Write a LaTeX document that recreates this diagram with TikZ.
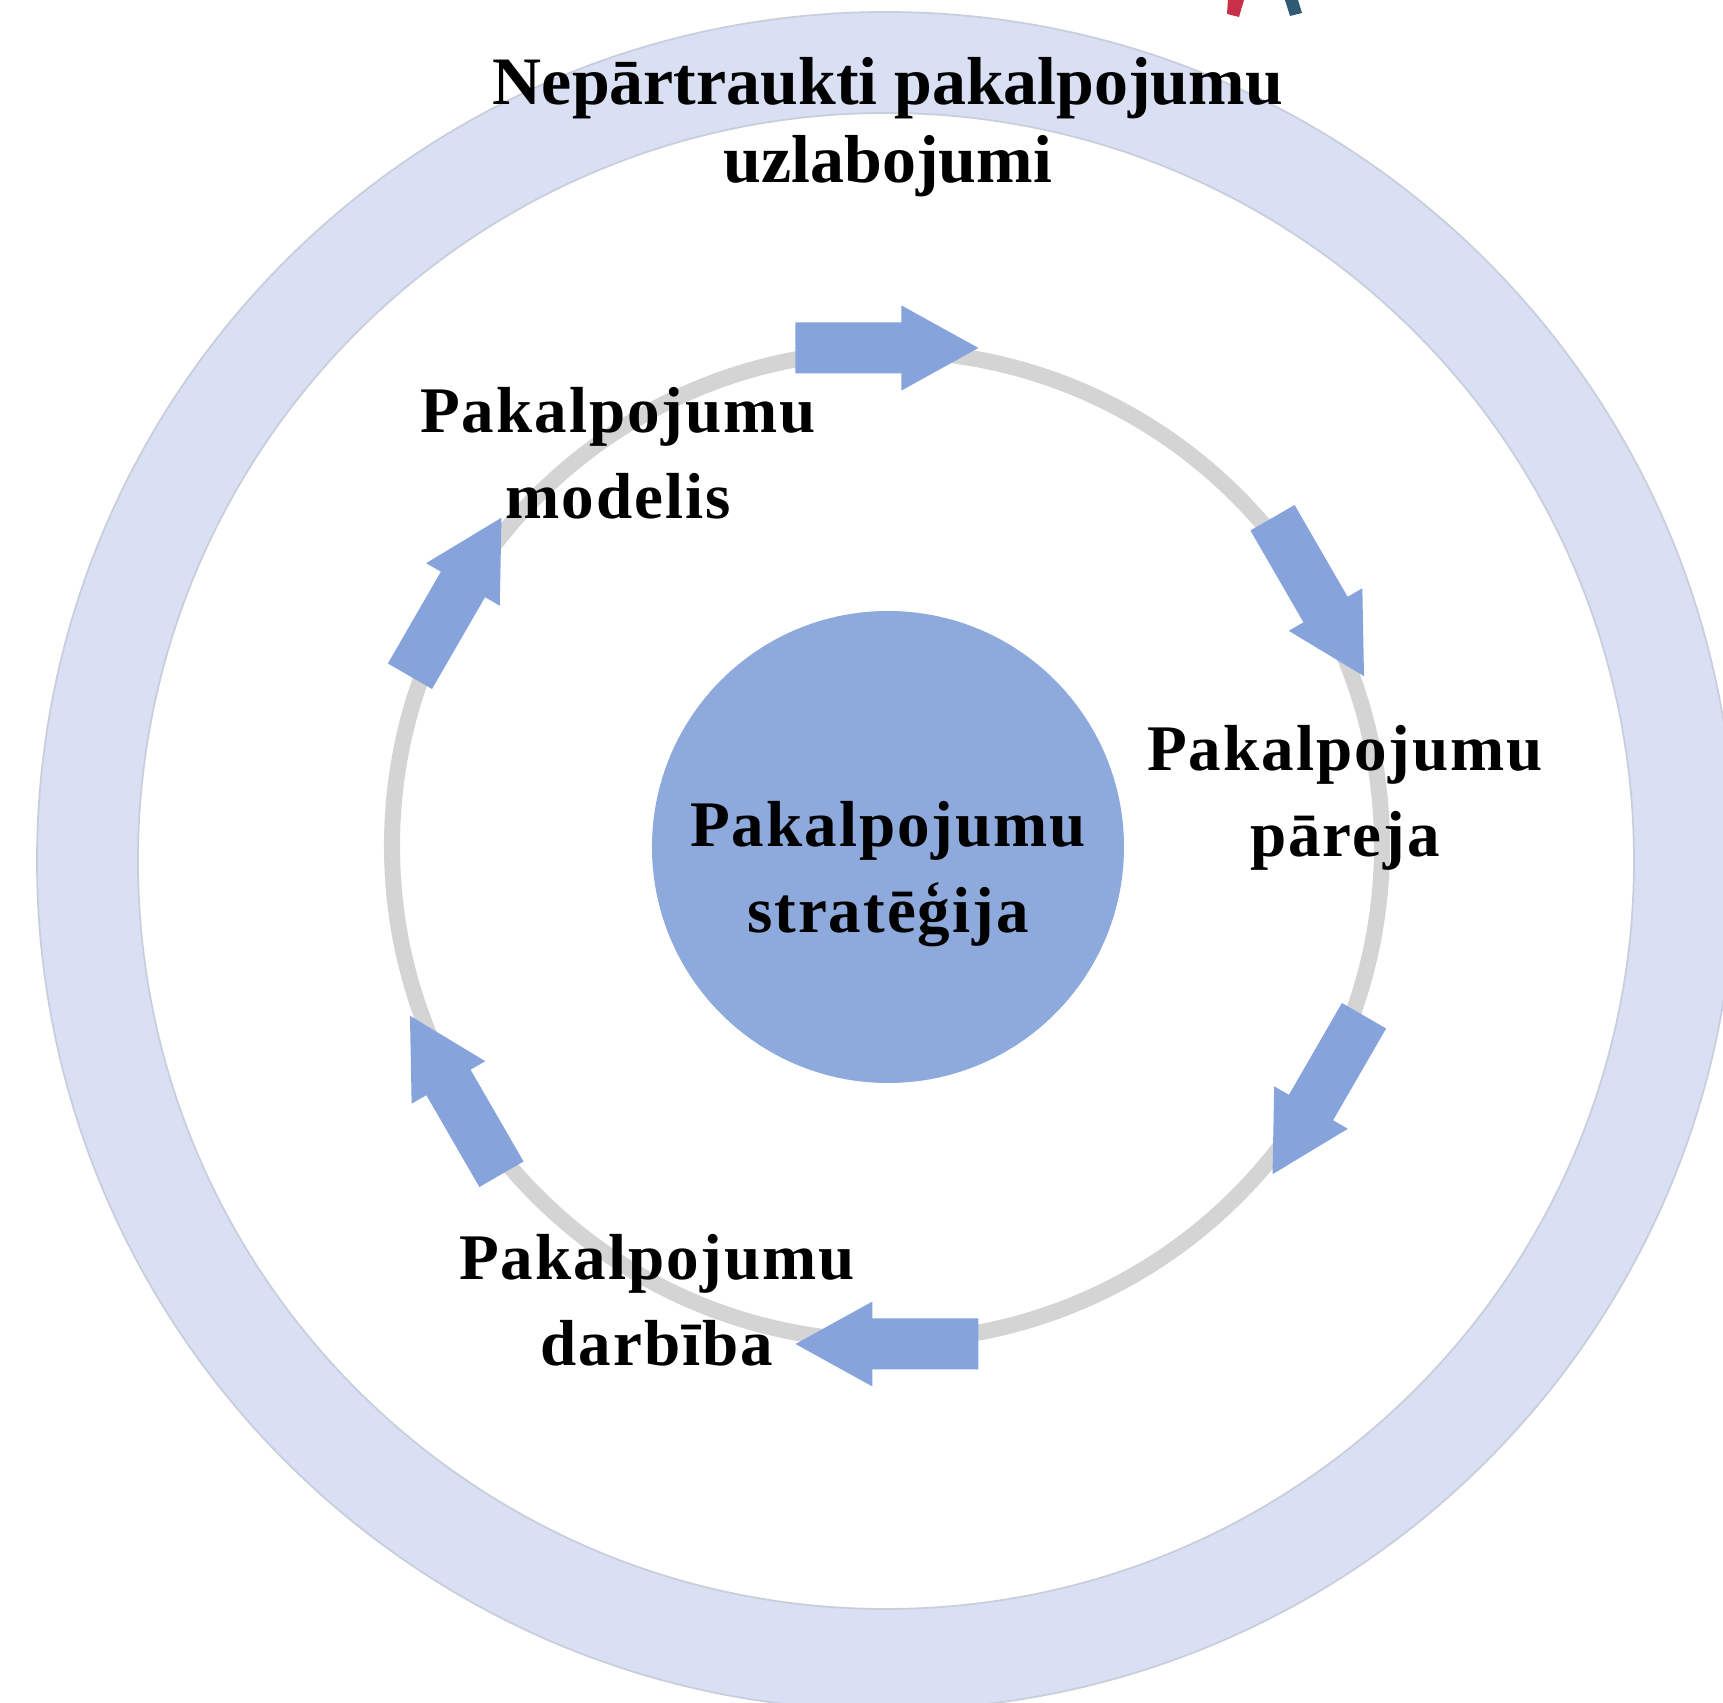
\documentclass[tikz,border=0pt]{standalone}
\usepackage{fontspec}
\setmainfont{Liberation Serif}
\definecolor{ringblue}{HTML}{DAE0F3}
\definecolor{ringedge}{HTML}{C9CEDC}
\definecolor{loopgray}{HTML}{D4D4D4}
\definecolor{coreblue}{HTML}{8EA9DB}
\definecolor{arrowblue}{HTML}{87A3DB}
\definecolor{logored}{HTML}{C8304A}
\definecolor{logoteal}{HTML}{2F5A73}
\tikzset{
	lbl/.style={font=\bfseries\fontsize{18.5}{24.5}\selectfont\addfontfeatures{LetterSpace=3}, align=center, text=black},
	ttl/.style={font=\bfseries\fontsize{19.3}{22.2}\selectfont, align=center, text=black},
}
\begin{document}
\begin{tikzpicture}[line join=round, line cap=round, x=0.01cm, y=0.01cm]
	%	\tikzset{every node/.style={scale=0.9}}
	\useasboundingbox (-887,-857) rectangle (836,846);
	\begin{scope}
		\clip (-887,-857) rectangle (836,846);
		\fill[white] (-887,-857) rectangle (836,846);
		\draw[ringedge, fill=ringblue, even odd rule, line width=0.5pt] (-1,-15) circle (849) (-1,-15) circle (748);
		\fill[logored] (341,846)--(357,846)--(352,829)--(340,832)--cycle;
		\fill[logoteal] (398,846)--(411,846)--(415,833)--(403,830)--cycle;
	\end{scope}
	\draw[loopgray, line width=0.16cm] (0,0) circle (495);
	\fill[coreblue] (1,-1) circle (236);
	\foreach \a in {90,30,-30,-90,-150,150}
	\fill[arrowblue, rotate=\a-90] (-91.5,472.5)--(14.5,472.5)--(14.5,455.5)--(91.5,498)--(14.5,540.5)--(14.5,523.5)--(-91.5,523.5)--cycle;
	\node[ttl] (impr) at (1,719) {Nepārtraukti pakalpojumu\\uzlabojumi};
	\node[lbl] (model) at (-269,393) {Pakalpojumu\\modelis};
	\node[lbl] (trans) at (458,48.5) {Pakalpojumu\\pāreja};
	\node[lbl] (strat) at (1,-28) {Pakalpojumu\\stratēģija};
	\node[lbl] (oper) at (-230,-454) {Pakalpojumu\\darbība};
\end{tikzpicture}
\end{document}
